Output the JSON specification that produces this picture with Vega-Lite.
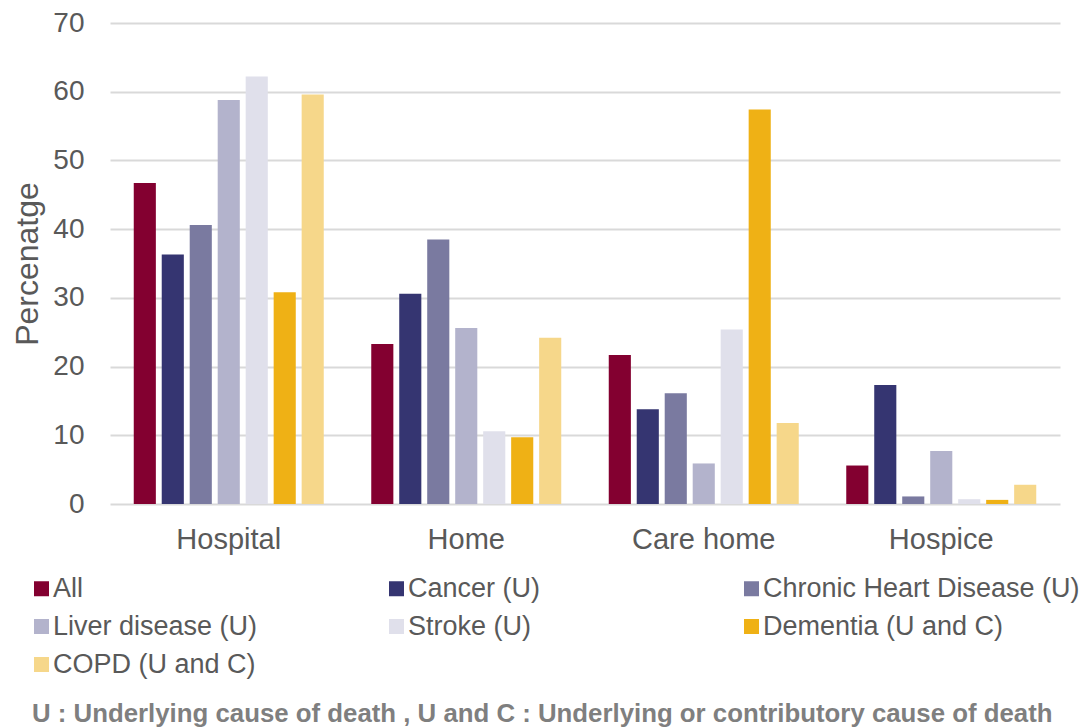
{
  "$schema": "https://vega.github.io/schema/vega-lite/v6.json",
  "width": 950,
  "height": 481,
  "autosize": {"type": "none"},
  "padding": {"left": 110, "top": 23, "right": 27, "bottom": 223},
  "background": "white",
  "config": {
    "font": "Liberation Sans",
    "view": {"stroke": null}
  },
  "title": {
    "text": "U : Underlying cause of death , U and C : Underlying or contributory cause of death",
    "orient": "bottom",
    "anchor": "start",
    "frame": "group",
    "font": "Liberation Sans",
    "fontSize": 25.8,
    "fontWeight": "bold",
    "color": "#7f7f7f",
    "dx": -78,
    "offset": 24
  },
  "data": {
    "values": [
      {"place": "Hospital", "cause": "All", "pct": 46.7},
      {"place": "Hospital", "cause": "Cancer (U)", "pct": 36.3},
      {"place": "Hospital", "cause": "Chronic Heart Disease (U)", "pct": 40.6},
      {"place": "Hospital", "cause": "Liver disease (U)", "pct": 58.8},
      {"place": "Hospital", "cause": "Stroke (U)", "pct": 62.2},
      {"place": "Hospital", "cause": "Dementia (U and C)", "pct": 30.8},
      {"place": "Hospital", "cause": "COPD (U and C)", "pct": 59.6},
      {"place": "Home", "cause": "All", "pct": 23.3},
      {"place": "Home", "cause": "Cancer (U)", "pct": 30.6},
      {"place": "Home", "cause": "Chronic Heart Disease (U)", "pct": 38.5},
      {"place": "Home", "cause": "Liver disease (U)", "pct": 25.6},
      {"place": "Home", "cause": "Stroke (U)", "pct": 10.6},
      {"place": "Home", "cause": "Dementia (U and C)", "pct": 9.7},
      {"place": "Home", "cause": "COPD (U and C)", "pct": 24.2},
      {"place": "Care home", "cause": "All", "pct": 21.7},
      {"place": "Care home", "cause": "Cancer (U)", "pct": 13.8},
      {"place": "Care home", "cause": "Chronic Heart Disease (U)", "pct": 16.1},
      {"place": "Care home", "cause": "Liver disease (U)", "pct": 5.9},
      {"place": "Care home", "cause": "Stroke (U)", "pct": 25.4},
      {"place": "Care home", "cause": "Dementia (U and C)", "pct": 57.4},
      {"place": "Care home", "cause": "COPD (U and C)", "pct": 11.8},
      {"place": "Hospice", "cause": "All", "pct": 5.6},
      {"place": "Hospice", "cause": "Cancer (U)", "pct": 17.3},
      {"place": "Hospice", "cause": "Chronic Heart Disease (U)", "pct": 1.1},
      {"place": "Hospice", "cause": "Liver disease (U)", "pct": 7.7},
      {"place": "Hospice", "cause": "Stroke (U)", "pct": 0.7},
      {"place": "Hospice", "cause": "Dementia (U and C)", "pct": 0.6},
      {"place": "Hospice", "cause": "COPD (U and C)", "pct": 2.8}
    ]
  },
  "mark": {"type": "bar"},
  "encoding": {
    "x": {
      "field": "place",
      "type": "nominal",
      "sort": ["Hospital", "Home", "Care home", "Hospice"],
      "scale": {"paddingInner": 0.2, "paddingOuter": 0.1},
      "axis": {
        "title": null,
        "labelAngle": 0,
        "labelFontSize": 29,
        "labelColor": "#595959",
        "labelPadding": 21,
        "ticks": false,
        "domain": false
      }
    },
    "xOffset": {
      "field": "cause",
      "type": "nominal",
      "scale": {
        "domain": ["All", "Cancer (U)", "Chronic Heart Disease (U)", "Liver disease (U)", "Stroke (U)", "Dementia (U and C)", "COPD (U and C)"],
        "paddingInner": 0.21,
        "paddingOuter": 0
      }
    },
    "y": {
      "field": "pct",
      "type": "quantitative",
      "scale": {"domain": [0, 70], "nice": false},
      "axis": {
        "title": "Percenatge",
        "titleFontSize": 32,
        "titleFontWeight": "normal",
        "titleColor": "#595959",
        "titlePadding": 8,
        "values": [0, 10, 20, 30, 40, 50, 60, 70],
        "labelFontSize": 28,
        "labelColor": "#595959",
        "labelPadding": 26,
        "ticks": false,
        "domain": false,
        "grid": true,
        "gridColor": "#d9d9d9",
        "gridWidth": 2
      }
    },
    "color": {
      "field": "cause",
      "type": "nominal",
      "scale": {
        "domain": ["All", "Cancer (U)", "Chronic Heart Disease (U)", "Liver disease (U)", "Stroke (U)", "Dementia (U and C)", "COPD (U and C)"],
        "range": ["#830030", "#353571", "#7a7aa0", "#b3b3cc", "#e0e0eb", "#efb115", "#f6d78a"]
      },
      "legend": {
        "title": null,
        "orient": "none",
        "direction": "horizontal",
        "legendX": -82,
        "legendY": 552,
        "columns": 3,
        "gridAlign": "all",
        "columnPadding": 13,
        "rowPadding": 10,
        "symbolType": "square",
        "symbolSize": 225,
        "symbolStrokeWidth": 0,
        "labelFontSize": 27,
        "labelColor": "#595959",
        "labelOffset": -2,
        "labelLimit": 400
      }
    }
  }
}
